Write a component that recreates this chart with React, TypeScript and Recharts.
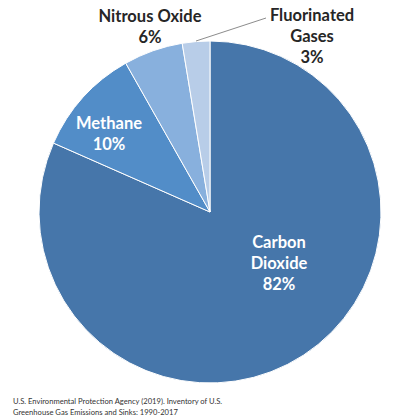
import { Pie, PieChart, Cell } from "recharts";

const gases = ["Carbon Dioxide", "Methane", "Nitrous Oxide", "Fluorinated Gases"];
const shares = [81.6, 10.2, 5.6, 2.6];
const shareLabels = ["82%", "10%", "6%", "3%"];
const colors = ["#4676aa", "#528dc8", "#88b0dd", "#b8cde8"];

const data = gases.map((name, i) => ({ name, value: shares[i] }));

// label lines per slice, and their offset from the pie centre
const labelLines = [
  ["Carbon", "Dioxide", shareLabels[0]],
  ["Methane", shareLabels[1]],
  ["Nitrous Oxide", shareLabels[2]],
  ["Fluorinated", "Gases", shareLabels[3]],
];
const labelOffsets = [
  { dx: 69, dy: 30, fill: "#ffffff" },
  { dx: -101, dy: -89, fill: "#ffffff" },
  { dx: -60, dy: -196, fill: "#262626" },
  { dx: 102, dy: -197, fill: "#262626" },
];

const font = "Lato, 'Open Sans', sans-serif";

function renderLabel(props: any) {
  const { cx, cy, index } = props;
  const o = labelOffsets[index];
  const lines = labelLines[index];
  const x = cx + o.dx;
  const y = cy + o.dy;
  return (
    <g key={`lbl-${index}`}>
      {index === 3 && (
        <line x1={cx - 14} y1={cy - 171} x2={cx + 56} y2={cy - 194} stroke="#8c8c8c" strokeWidth={1} />
      )}
      <text
        x={x}
        y={y}
        textAnchor="middle"
        fill={o.fill}
        fontFamily={font}
        fontWeight={700}
        fontSize={16.5}
      >
        {lines.map((t, i) => (
          <tspan key={i} x={x} y={y + i * 21} dominantBaseline="central">
            {t}
          </tspan>
        ))}
      </text>
    </g>
  );
}

export default function App() {
  return (
    <div style={{ position: "absolute", left: 0, top: 0, width: 407, height: 420, background: "#fff" }}>
      <PieChart width={407} height={420}>
        <Pie
          data={data}
          dataKey="value"
          nameKey="name"
          cx={205}
          cy={207}
          outerRadius={171}
          startAngle={90}
          endAngle={-270}
          stroke="#ffffff"
          strokeWidth={1}
          label={renderLabel}
          labelLine={false}
          isAnimationActive={false}
        >
          {data.map((d, i) => (
            <Cell key={d.name} fill={colors[i]} />
          ))}
        </Pie>
        <text x={13} y={404} fontFamily="Lato, sans-serif" fontSize={7.6} fill="#333">
          U.S. Environmental Protection Agency (2019). Inventory of U.S.
        </text>
        <text x={13} y={415} fontFamily="Lato, sans-serif" fontSize={7.6} fill="#333">
          Greenhouse Gas Emissions and Sinks: 1990-2017
        </text>
      </PieChart>
    </div>
  );
}
